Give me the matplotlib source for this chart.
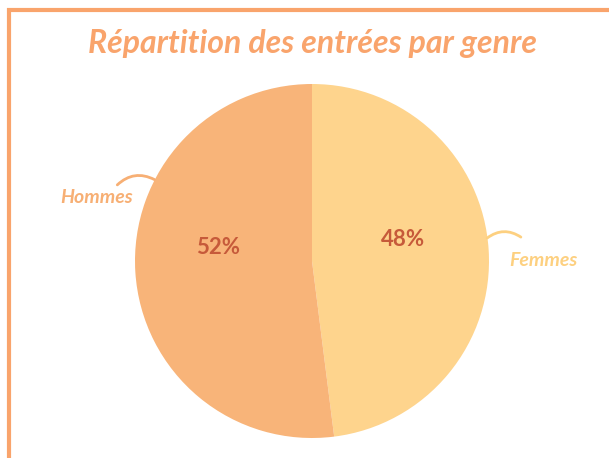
""" Pie chart of cinema entries split by gender """

import matplotlib
matplotlib.use('Agg')
import matplotlib.pyplot as plt

# Data
genres = ['Hommes', 'Femmes']
parts = [52, 48]

# Hand placed label positions (pie data coords, radius = 1)
name_pos = {'Hommes': (-1.215, 0.36), 'Femmes': (1.31, 0.0)}
pct_pos = {'Hommes': (-0.53, 0.075), 'Femmes': (0.515, 0.12)}
leader = {'Hommes': ((-1.10, 0.43), (-0.89, 0.46)),
          'Femmes': ((0.99, 0.13), (1.18, 0.135))}

colors = {'Hommes': '#F8B479', 'Femmes': '#FED48D'}
text_colors = {'Hommes': '#F7AF74', 'Femmes': '#FDD080'}
border = '#F9A46C'
pct_color = '#C65A3A'

fig = plt.figure(figsize=(6.09, 4.58), dpi=100)

# Frame lines on the left and top
fig.add_artist(plt.Line2D([9 / 609, 9 / 609], [0, 1 - 8 / 458],
                          color=border, lw=3, solid_capstyle='butt'))
fig.add_artist(plt.Line2D([7 / 609, 1], [1 - 10 / 458, 1 - 10 / 458],
                          color=border, lw=3, solid_capstyle='butt'))

fig.text(313 / 609, 1 - 44 / 458, 'Répartition des entrées par genre',
         ha='center', va='center', fontsize=23, color=border,
         family='Lato', style='italic', fontweight='bold')

ax = fig.add_axes([135 / 609, 20 / 458, 354 / 609, 354 / 458])
# Femmes first, clockwise from the top
order = ['Femmes', 'Hommes']
ax.pie([parts[genres.index(g)] for g in order],
       colors=[colors[g] for g in order],
       startangle=90, counterclock=False, radius=1)
ax.set_xlim(-1, 1)
ax.set_ylim(-1, 1)
ax.set_aspect('equal')
ax.axis('off')

for g, p in zip(genres, parts):
    x, y = pct_pos[g]
    ax.text(x, y, '%d%%' % p, ha='center', va='center', fontsize=16,
            fontweight='bold', color=pct_color, family='Lato')
    x, y = name_pos[g]
    ax.text(x, y, g, ha='center', va='center', fontsize=14,
            color=text_colors[g], family='Lato', style='italic',
            fontweight='bold', clip_on=False)
    start, end = leader[g]
    ax.annotate('', xy=end, xytext=start, annotation_clip=False,
                arrowprops=dict(arrowstyle='-', color=text_colors[g], lw=2,
                                connectionstyle='arc3,rad=-0.35',
                                shrinkA=0, shrinkB=0))

fig.savefig('out.png', dpi=100)
